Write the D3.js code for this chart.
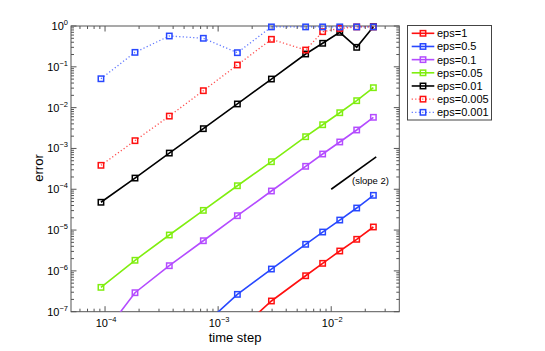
<!DOCTYPE html>
<html><head><meta charset="utf-8">
<script src="https://cdn.jsdelivr.net/npm/d3@7"></script>
<style>body{margin:0;background:#fff} text{font-family:"Liberation Sans",Arial,Helvetica,sans-serif;fill:#000}</style>
</head><body><svg id="c" width="545" height="351"></svg>
<script>
// ---- data ----
const timeSteps = [9.2e-5, 1.84e-4, 3.70e-4, 7.40e-4, 1.48e-3, 2.96e-3, 5.94e-3, 8.40e-3, 1.19e-2, 1.68e-2, 2.36e-2];
const seriesNames = ["eps=1", "eps=0.5", "eps=0.1", "eps=0.05", "eps=0.01", "eps=0.005", "eps=0.001"];
const errEps1    = [1.25e-10, 5e-10, 2e-9, 8e-9, 3.2e-8, 1.83e-7, 7.6e-7, 1.53e-6, 3.07e-6, 5.94e-6, 1.19e-5];
const errEps05   = [7e-10, 2.9e-9, 1.15e-8, 4.6e-8, 2.66e-7, 1.11e-6, 4.48e-6, 8.95e-6, 1.76e-5, 3.47e-5, 7.1e-5];
const errEps01   = [2.3e-8, 2.92e-7, 1.34e-6, 5.48e-6, 2.25e-5, 9.06e-5, 3.65e-4, 7.3e-4, 1.44e-3, 2.83e-3, 5.79e-3];
const errEps005  = [3.95e-7, 1.82e-6, 7.57e-6, 3.04e-5, 1.22e-4, 4.73e-4, 1.94e-3, 3.81e-3, 7.5e-3, 1.48e-2, 3.08e-2];
const errEps001  = [4.8e-5, 1.88e-4, 7.7e-4, 3.05e-3, 1.23e-2, 5.02e-2, 0.206, 0.377, 0.70, 0.30, 0.96];
const errEps0005 = [3.86e-4, 1.55e-3, 6.2e-3, 0.026, 0.111, 0.472, 0.258, 0.726, 0.87, 0.95, 0.95];
const errEps0001 = [0.051, 0.226, 0.569, 0.50, 0.222, 0.95, 0.95, 0.95, 0.95, 0.95, 0.95];
const seriesValues = [errEps1, errEps05, errEps01, errEps005, errEps001, errEps0005, errEps0001];
const seriesColors = ["#ff1010", "#2848ff", "#b44cff", "#80ee10", "#000000", "#ff1010", "#2848ff"];
const seriesDotted = [false, false, false, false, false, true, true];
const slopeX = [0.01, 0.025];
const slopeY = [1.0e-4, 6.25e-4];
const xTickExps = [-4, -3, -2];
const yTickExps = [-7, -6, -5, -4, -3, -2, -1, 0];

// ---- layout ----
const svg = d3.select("#c");
const L = 71, R = 399.3, T = 26, B = 311.7;
const x = d3.scaleLog().domain([5e-5, 0.04]).range([L, R]);
const y = d3.scaleLog().domain([1e-7, 1]).range([B, T]);

svg.append("defs").append("clipPath").attr("id", "clip")
  .append("rect").attr("x", L).attr("y", T).attr("width", R - L).attr("height", B - T);

// ticks
const axisCol = "#555";
const g = svg.append("g");
const xMinor = [], yMinor = [];
for (let e = -5; e <= -1; e++) for (let m = 2; m <= 9; m++) { const v = m * Math.pow(10, e); if (v > 5e-5 && v < 0.04) xMinor.push(v); }
for (let e = -7; e < 0; e++) for (let m = 2; m <= 9; m++) yMinor.push(m * Math.pow(10, e));
function tick(x1, y1, x2, y2) { g.append("line").attr("x1", x1).attr("y1", y1).attr("x2", x2).attr("y2", y2).attr("stroke", axisCol).attr("stroke-width", 1); }
xMinor.forEach(v => { const px = x(v); tick(px, B, px, B - 3); tick(px, T, px, T + 3); });
xTickExps.forEach(e => { const px = x(Math.pow(10, e)); tick(px, B, px, B - 5.5); tick(px, T, px, T + 5.5); });
yMinor.forEach(v => { const py = y(v); tick(L, py, L + 3, py); tick(R, py, R - 3, py); });
yTickExps.forEach(e => { const py = y(Math.pow(10, e)); tick(L, py, L + 5.5, py); tick(R, py, R - 5.5, py); });
g.append("rect").attr("x", L).attr("y", T).attr("width", R - L).attr("height", B - T)
  .attr("fill", "none").attr("stroke", axisCol).attr("stroke-width", 1);

// tick labels
yTickExps.forEach(e => {
  const t = svg.append("text").attr("x", 68).attr("y", y(Math.pow(10, e)) + 4).attr("text-anchor", "end").style("font-size", "11px");
  t.append("tspan").text("10");
  t.append("tspan").attr("dy", -5).style("font-size", "7.5px").text(e === 0 ? "0" : "\u2212" + (-e));
});
xTickExps.forEach(e => {
  const t = svg.append("text").attr("x", x(Math.pow(10, e)) + 1).attr("y", 327).attr("text-anchor", "middle").style("font-size", "11px");
  t.append("tspan").text("10");
  t.append("tspan").attr("dy", -5).style("font-size", "7.5px").text("\u2212" + (-e));
});

// axis labels
svg.append("text").attr("x", 235).attr("y", 342).attr("text-anchor", "middle").style("font-size", "13px").text("time step");
svg.append("text").attr("transform", "translate(43,168) rotate(-90)").attr("text-anchor", "middle").style("font-size", "13px").text("error");

// series
const line = d3.line().x(d => x(d[0])).y(d => y(d[1]));
const plot = svg.append("g");
seriesValues.forEach((vals, i) => {
  const pts = timeSteps.map((t, j) => [t, vals[j]]);
  const col = seriesColors[i];
  plot.append("path").attr("clip-path", "url(#clip)").attr("d", line(pts)).attr("fill", "none")
    .attr("stroke", col).attr("stroke-width", seriesDotted[i] ? 1.3 : 1.6)
    .attr("stroke-dasharray", seriesDotted[i] ? "1.2,2.3" : null)
    .attr("stroke-opacity", seriesDotted[i] ? 0.75 : 1);
  pts.filter(p => p[1] >= 1e-7 && p[1] <= 1).forEach(p => {
    plot.append("rect").attr("x", x(p[0]) - 2.7).attr("y", y(p[1]) - 2.7).attr("width", 5.4).attr("height", 5.4)
      .attr("fill", "none").attr("stroke", col).attr("stroke-width", 1.5);
  });
});

// slope reference
svg.append("line").attr("x1", x(slopeX[0])).attr("y1", y(slopeY[0])).attr("x2", x(slopeX[1])).attr("y2", y(slopeY[1]))
  .attr("stroke", "#000").attr("stroke-width", 1.6);
svg.append("text").attr("x", 352).attr("y", 184).style("font-size", "9.5px").text("(slope 2)");

// legend
const lg = svg.append("g");
lg.append("rect").attr("x", 407.5).attr("y", 25.5).attr("width", 84).attr("height", 94.5)
  .attr("fill", "#fff").attr("stroke", "#444").attr("stroke-width", 1);
seriesNames.forEach((name, i) => {
  const cy = 33.3 + i * 13.17;
  const col = seriesColors[i];
  lg.append("line").attr("x1", 411.7).attr("x2", 434.3).attr("y1", cy).attr("y2", cy)
    .attr("stroke", col).attr("stroke-width", seriesDotted[i] ? 1.3 : 1.6)
    .attr("stroke-dasharray", seriesDotted[i] ? "1.2,2.3" : null)
    .attr("stroke-opacity", seriesDotted[i] ? 0.75 : 1);
  lg.append("rect").attr("x", 423 - 2.7).attr("y", cy - 2.7).attr("width", 5.4).attr("height", 5.4)
    .attr("fill", "none").attr("stroke", col).attr("stroke-width", 1.5);
  lg.append("text").attr("x", 437).attr("y", cy + 4).style("font-size", "11px").text(name);
});
</script></body></html>
